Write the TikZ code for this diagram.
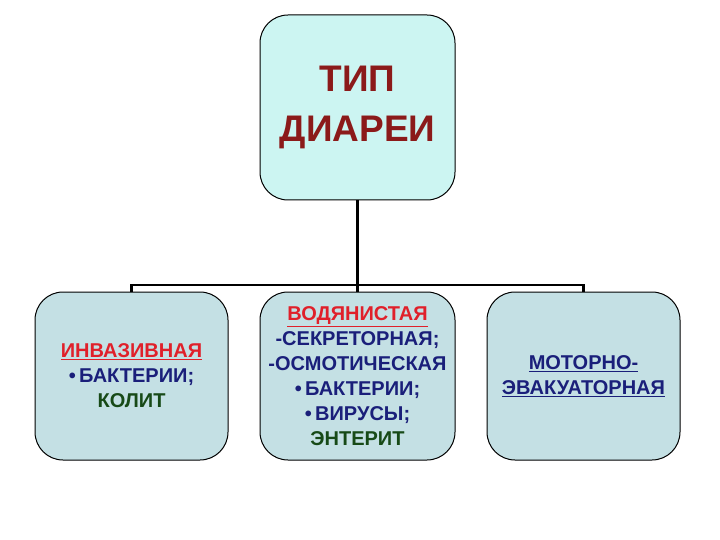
\documentclass[tikz,border=0pt]{standalone}
\usepackage{fontspec}
\setmainfont{Liberation Sans}
\begin{document}
\begin{tikzpicture}[x=1pt,y=-1pt,
 box/.style={draw=black,line width=1pt,rounded corners=28pt,fill=boxc,align=center,font=\bfseries\fontsize{20}{25}\selectfont},
 conn/.style={line width=2.4pt}]
\definecolor{boxc}{HTML}{C4E0E4}
\definecolor{topc}{HTML}{CCF5F2}
\definecolor{tred}{HTML}{8B1A1A}
\definecolor{rd}{HTML}{E0202A}
\definecolor{nv}{HTML}{1A1F7A}
\definecolor{gr}{HTML}{174A17}
\useasboundingbox (0,0) rectangle (720,540);
\node[box,fill=topc,minimum width=195pt,minimum height=185pt,font=\bfseries\fontsize{37}{50}\selectfont,text=tred] (top) at (357.5,107.5) {ТИП\\ДИАРЕИ};
\node[box,minimum width=193pt,minimum height=168pt] (l) at (131.5,376) {\textcolor{rd}{\underline{ИНВАЗИВНАЯ}}\\\textcolor{nv}{•\,БАКТЕРИИ;}\\\textcolor{gr}{КОЛИТ}};
\node[box,minimum width=195pt,minimum height=168pt] (m) at (357.5,376) {\textcolor{rd}{\underline{ВОДЯНИСТАЯ}}\\\textcolor{nv}{-СЕКРЕТОРНАЯ;}\\\textcolor{nv}{-ОСМОТИЧЕСКАЯ}\\\textcolor{nv}{•\,БАКТЕРИИ;}\\\textcolor{nv}{•\,ВИРУСЫ;}\\\textcolor{gr}{ЭНТЕРИТ}};
\node[box,minimum width=193pt,minimum height=168pt,text=nv] (r) at (583.5,376) {\underline{МОТОРНО-}\\\underline{ЭВАКУАТОРНАЯ}};
\coordinate (hl) at (131.5,285);
\coordinate (hr) at (583.5,285);
\draw[conn] (top.south) -- (m.north);
\draw[conn] (l.north) -- (hl) -- (hr) -- (r.north);
\end{tikzpicture}
\end{document}
